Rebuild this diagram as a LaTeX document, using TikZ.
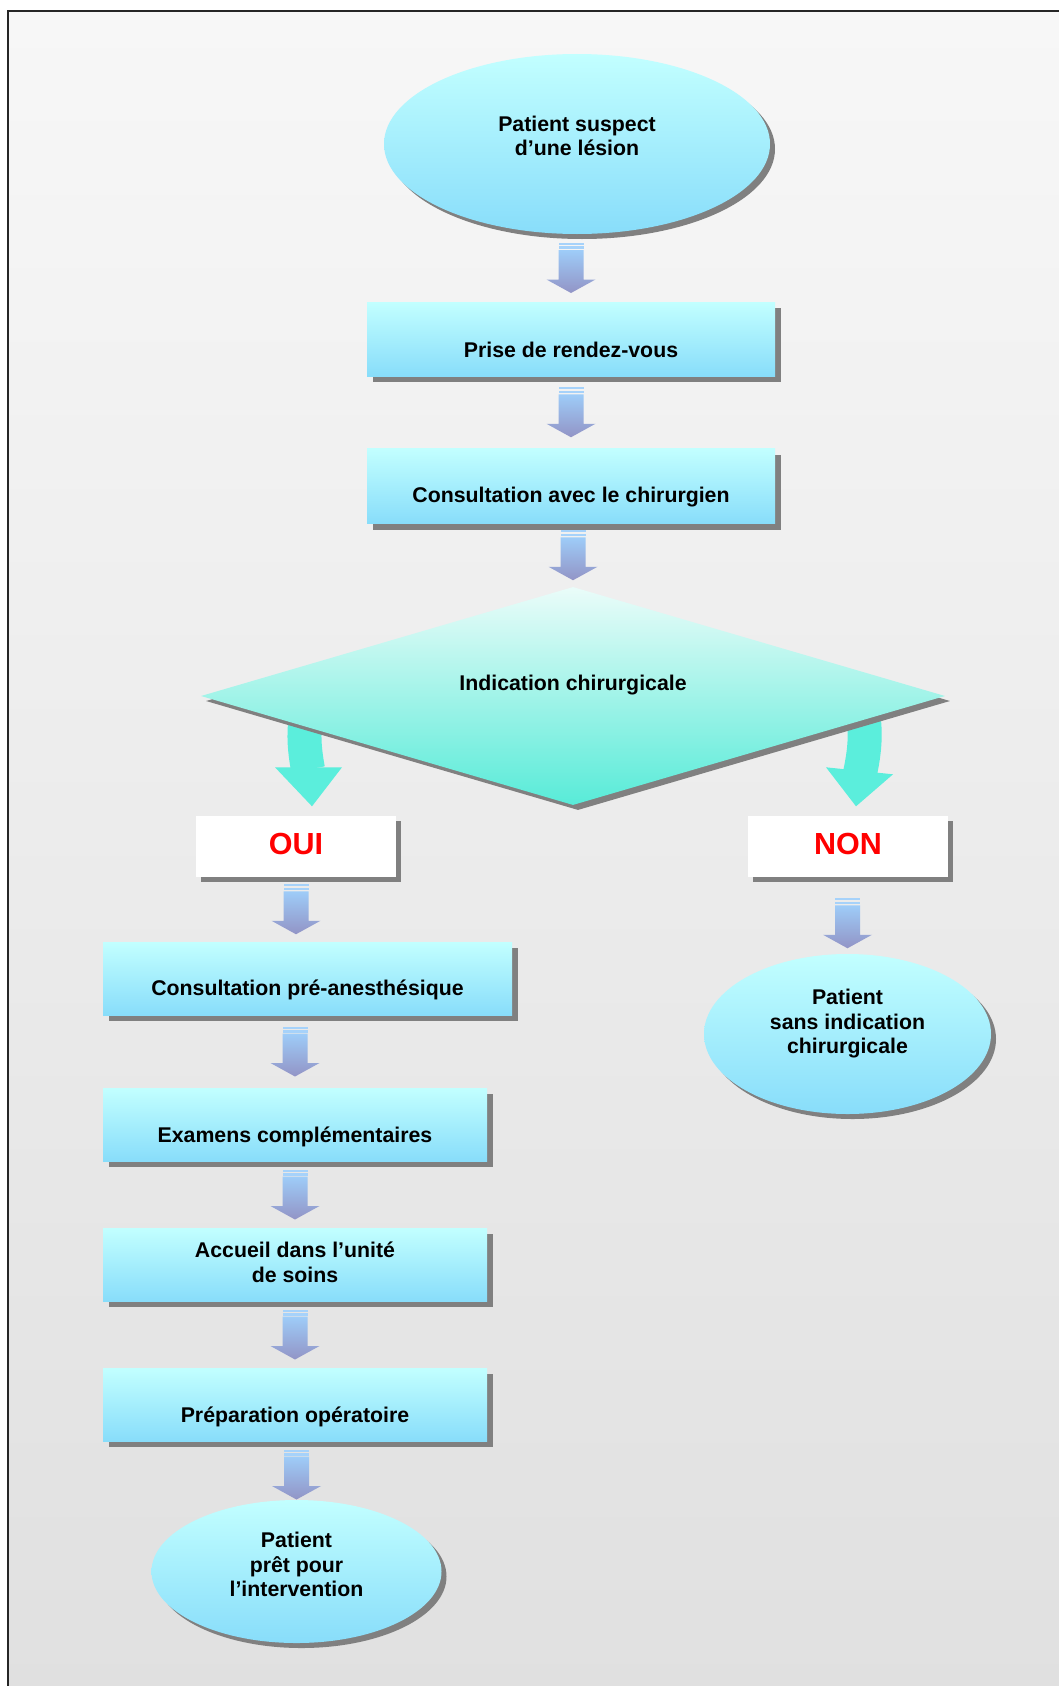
\documentclass[tikz,border=0pt]{standalone}
\usepackage{fontspec}
\setmainfont{Liberation Sans}
\usepackage{tikz}
\usetikzlibrary{calc}
\usetikzlibrary{shapes}
\usetikzlibrary{shadows}
\definecolor{bgtop}{RGB}{247,247,247}
\definecolor{bgbot}{RGB}{224,224,224}
\definecolor{cyantop}{RGB}{194,255,255}
\definecolor{cyanbot}{RGB}{136,221,250}
\definecolor{mintop}{RGB}{234,252,249}
\definecolor{minbot}{RGB}{88,235,216}
\definecolor{turq}{RGB}{91,238,220}
\definecolor{arrtop}{RGB}{158,204,248}
\definecolor{arrbot}{RGB}{146,148,198}
\definecolor{stripe}{RGB}{166,210,250}
\definecolor{shadowgray}{RGB}{128,128,128}
\pgfdeclarelayer{back}
\pgfdeclarelayer{mid}
\pgfsetlayers{back,mid,main}
\tikzset{
txt/.style={font=\fontsize{21.3}{24.5}\selectfont\bfseries, align=center, text=black},
flat shadow/.style={drop shadow={shadow xshift=#1, shadow yshift=-#1, fill=shadowgray, opacity=1}},
stepbox/.style={rectangle, inner sep=0pt, top color=cyantop, bottom color=cyanbot, flat shadow=6pt},
oval/.style={ellipse, inner sep=0pt, top color=cyantop, bottom color=cyanbot, flat shadow=5pt},
decision/.style={diamond, inner sep=0pt, top color=mintop, bottom color=minbot, flat shadow=5pt},
answer/.style={rectangle, inner sep=0pt, fill=white, flat shadow=5pt, minimum width=200pt, minimum height=61pt, text depth=4.4pt, text=red, font=\fontsize{30.5}{36}\selectfont\bfseries},
branch/.style={turq},
}
% striped block arrow between two nodes
\newcommand{\flowarrow}[3][0,0]{%
\coordinate (fa) at ($(#2.south)!.5!(#3.north)$);
\coordinate (fb) at (fa -| #3.north);
\begin{scope}[shift={($(fb)+(#1)$)}]
\fill[stripe] (-12.5,-25) rectangle (12.5,-22.8);
\fill[stripe] (-12.5,-21.6) rectangle (12.5,-19);
\shade[top color=arrtop, bottom color=arrbot] (-12.5,-17.8) -- (12.5,-17.8) -- (12.5,11.5) -- (24.5,11.5) -- (0,25) -- (-24.5,11.5) -- (-12.5,11.5) -- cycle;
\end{scope}}

\begin{document}
\begin{tikzpicture}[x=1pt,y=-1pt]
\useasboundingbox (0,0) rectangle (1058,1686);
\begin{pgfonlayer}{back}
\shade[top color=bgtop, bottom color=bgbot] (8,11) rectangle (1075,1700);
\draw[line width=2.2pt, black!85] (8,1700) -- (8,11) -- (1075,11);
\end{pgfonlayer}

\node[oval, minimum width=386pt, minimum height=180pt, label={[txt,yshift=8pt]center:Patient suspect\\d’une lésion}] (start) at (577,144) {};
\node[stepbox, minimum width=408pt, minimum height=74pt, label={[txt,yshift=-11pt]center:Prise de rendez-vous}] (rdv) at (571,339) {};
\node[stepbox, minimum width=408pt, minimum height=75pt, label={[txt,yshift=-11.5pt]center:Consultation avec le chirurgien}] (consult) at (571,486) {};
\node[decision, minimum width=744pt, minimum height=218pt, label={[txt,yshift=11pt]center:Indication chirurgicale}] (dia) at (573,696) {};

\node[answer] (oui) at (296,846) {OUI};
\node[answer] (non) at (848,846) {NON};

%\draw (oui) -- (preanes);
\node[stepbox, minimum width=409pt, minimum height=73pt, label={[txt,yshift=-11pt]center:Consultation pré-anesthésique}] (preanes) at (307.5,978.5) {};
\node[stepbox, minimum width=384pt, minimum height=73pt, label={[txt,yshift=-12.5pt]center:Examens complémentaires}] (exams) at (295,1124.5) {};
\node[stepbox, minimum width=384pt, minimum height=73pt, label={[txt,yshift=2pt]center:Accueil dans l’unité\\de soins}] (accueil) at (295,1264.5) {};
\node[stepbox, minimum width=384pt, minimum height=73pt, label={[txt,yshift=-12.5pt]center:Préparation opératoire}] (prepa) at (295,1404.5) {};
\node[oval, minimum width=290pt, minimum height=143pt, label={[txt,yshift=7pt]center:Patient\\prêt pour\\l’intervention}] (ready) at (296.5,1571.5) {};

\node[oval, minimum width=287pt, minimum height=160pt, label={[txt,yshift=10pt]center:Patient\\sans indication\\chirurgicale}] (noop) at (847.5,1034) {};

\begin{pgfonlayer}{mid}
\draw[branch, line width=34pt] ($(dia.center)+(-263,0)$) to[bend right=12] ($(oui.north)+(12,-46)$);
\fill[branch] ($(oui.north)+(-21,-48)$) -- ($(oui.north)+(46,-48)$) -- ($(oui.north)+(16,-9)$) -- cycle;
\draw[branch, line width=34pt] ($(dia.center)+(287,0)$) to[bend left=12] ($(non.north)+(12,-42)$);
\fill[branch] ($(non.north)+(-22,-48)$) -- ($(non.north)+(45,-41)$) -- ($(non.north)+(8,-9)$) -- cycle;
\end{pgfonlayer}

\foreach \a/\b in {start/rdv,rdv/consult,consult/dia,preanes/exams,exams/accueil,accueil/prepa}
\flowarrow{\a}{\b};
\flowarrow[-11.5,0]{oui}{preanes}
\flowarrow[0,4]{prepa}{ready}
\flowarrow[0,8]{non}{noop}
\end{tikzpicture}
\end{document}
